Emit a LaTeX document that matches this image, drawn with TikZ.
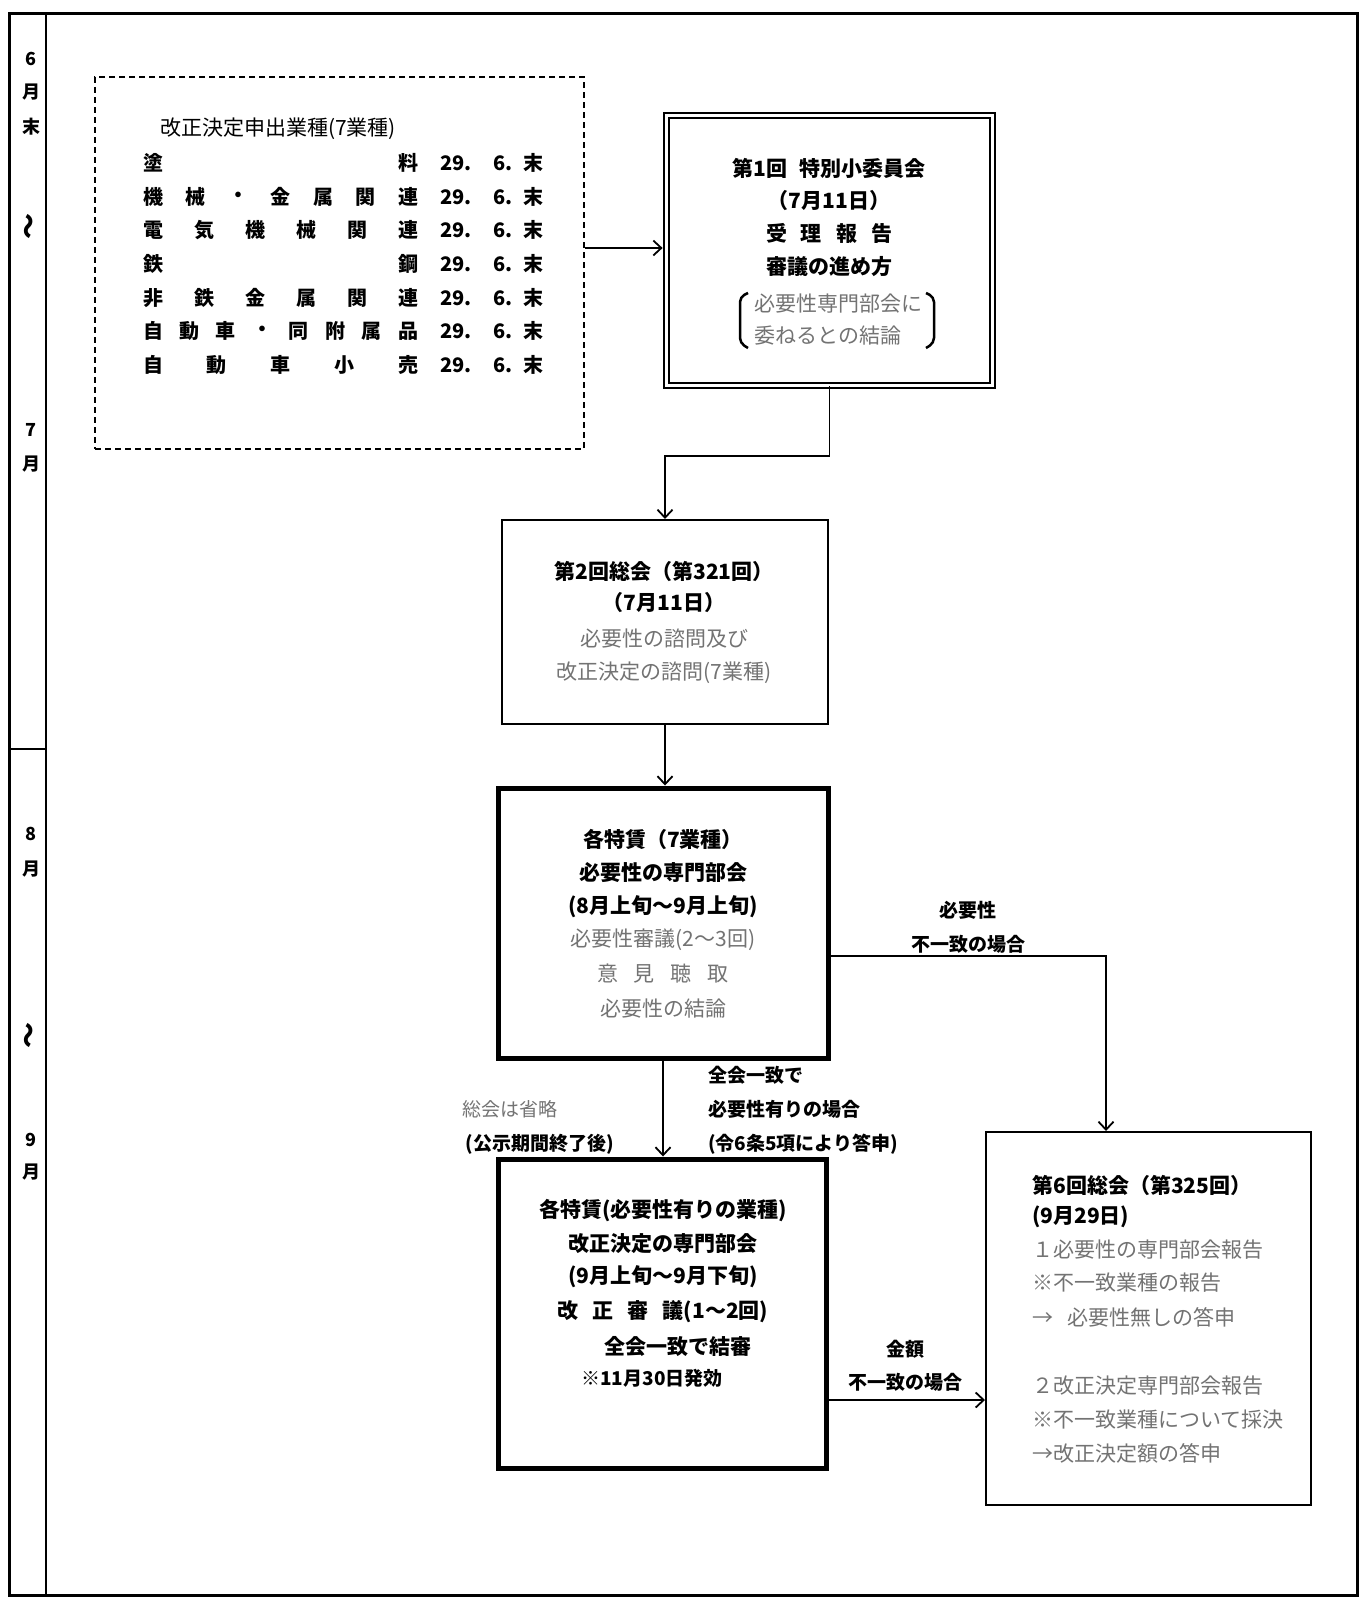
\documentclass[tikz,border=0pt]{standalone}
\usepackage{fontspec}
\setmainfont{Noto Sans CJK JP}
\usetikzlibrary{arrows.meta}
\definecolor{lightink}{gray}{0.45}
\tikzset{
  frameline/.style={line width=3pt, line cap=rect},
  plainbox/.style={draw, line width=2pt, inner sep=0pt},
  heavybox/.style={draw, line width=5pt, inner sep=0pt},
  doublebox/.style={draw, double, double distance=3pt, line width=1.8pt, inner sep=0pt},
  dashbox/.style={draw, dashed, dash pattern=on 6pt off 4pt, line width=1.8pt, inner sep=0pt},
  conn/.style={line width=1.8pt},
  arr/.style={conn, -{Straight Barb[length=8pt,width=15pt,line width=1.8pt]}},
  bt/.style={font=\fontsize{21}{24}\selectfont\bfseries, inner sep=0pt},
  lt/.style={font=\fontsize{21}{24}\selectfont, text=lightink, inner sep=0pt},
  rowt/.style={font=\fontsize{20}{22}\selectfont\bfseries, inner sep=0pt},
  lab/.style={font=\fontsize{19}{22}\selectfont\bfseries, inner sep=0pt},
  colt/.style={font=\fontsize{18}{20}\selectfont\bfseries, inner sep=0pt},
  wavet/.style={font=\fontsize{26}{28}\selectfont\bfseries, inner sep=0pt, rotate=90},
}
\newcommand\gyoshu[4]{%
  \foreach \ch [count=\k from 0] in {#4}{%
    \node[rowt] (#1-\k) at ({153+\k*255/(#3-1)},#2) {\ch};
  }
  \node[rowt, anchor=west] (#1-y) at (440,#2) {29.};
  \node[rowt, anchor=west] (#1-m) at (493,#2) {6.};
  \node[rowt] (#1-e) at (533,#2) {末};
}
\begin{document}
\begin{tikzpicture}[x=1pt,y=-1pt]
\useasboundingbox (0,0) rectangle (1365,1598);
\fill[white] (0,0) rectangle (1365,1598);

% outer frame and month column
\draw[frameline] (9,13) rectangle (1357,1595);
\draw[line width=2.6pt] (46,13) -- (46,1595);
\draw[line width=2pt] (9,749) -- (46,749);

\node[colt] (m6) at (31,59) {6};
\node[colt] (m6a) at (31,92) {月};
\node[colt] (m6b) at (31,127) {末};
\node[wavet] (w1) at (31,226) {～};
\node[colt] (m7) at (31,430) {7};
\node[colt] (m7a) at (31,464) {月};
\node[colt] (m8) at (31,834) {8};
\node[colt] (m8a) at (31,869) {月};
\node[wavet] (w2) at (31,1035) {～};
\node[colt] (m9) at (31,1140) {9};
\node[colt] (m9a) at (31,1172) {月};

% dashed box with industries
\node[dashbox, minimum width=489pt, minimum height=372pt] (dash) at (339.5,263) {};
\node[font=\fontsize{21}{24}\selectfont, inner sep=0pt] (title) at (278,129) {改正決定申出業種(7業種)};
\gyoshu{r1}{163}{2}{塗,料}
\gyoshu{r2}{197}{7}{機,械,・,金,属,関,連}
\gyoshu{r3}{230}{6}{電,気,機,械,関,連}
\gyoshu{r4}{264}{2}{鉄,鋼}
\gyoshu{r5}{298}{6}{非,鉄,金,属,関,連}
\gyoshu{r6}{331}{8}{自,動,車,・,同,附,属,品}
\gyoshu{r7}{365}{5}{自,動,車,小,売}

% box 1
\node[doublebox, minimum width=326pt, minimum height=270pt] (b1) at (829.5,250.5) {};
\node[bt] (t1a) at (829,168) {第1回\hspace{12pt}特別小委員会};
\node[bt] (t1b) at (829,201) {（7月11日）};
\node[bt] (t1c) at (829,233) {受\hspace{14pt}理\hspace{14pt}報\hspace{14pt}告};
\node[bt] (t1d) at (829,267) {審議の進め方};
\node[lt, anchor=west] (t1e) at (754,304) {必要性専門部会に};
\node[lt, anchor=west] (t1f) at (754,336) {委ねるとの結論};
\draw[line width=2.5pt, rounded corners=5pt] (748,293) -- (740,297) -- (740,343) -- (748,348);
\draw[line width=2.5pt, rounded corners=5pt] (926,293) -- (934,297) -- (934,343) -- (926,348);

% box 2
\node[plainbox, minimum width=326pt, minimum height=204pt] (b2) at (665,622) {};
\node[bt] (t2a) at (664,571) {第2回総会（第321回）};
\node[bt] (t2b) at (664,603) {（7月11日）};
\node[lt] (t2c) at (664,639) {必要性の諮問及び};
\node[lt] (t2d) at (664,673) {改正決定の諮問(7業種)};

% box 3
\node[heavybox, minimum width=330pt, minimum height=270pt] (b3) at (663,923) {};
\node[bt] (t3a) at (663,839) {各特賃（7業種）};
\node[bt] (t3b) at (663,873) {必要性の専門部会};
\node[bt] (t3c) at (663,907) {(8月上旬～9月上旬)};
\node[lt] (t3d) at (663,940) {必要性審議(2～3回)};
\node[lt] (t3e) at (663,974) {意\hspace{16pt}見\hspace{16pt}聴\hspace{16pt}取};
\node[lt] (t3f) at (663,1009) {必要性の結論};

% box 5
\node[heavybox, minimum width=328pt, minimum height=309pt] (b5) at (662,1313.5) {};
\node[bt] (t5a) at (663,1211) {各特賃(必要性有りの業種)};
\node[bt] (t5b) at (663,1244) {改正決定の専門部会};
\node[bt] (t5c) at (663,1277) {(9月上旬～9月下旬)};
\node[bt] (t5d) at (663,1312) {改\hspace{14pt}正\hspace{14pt}審\hspace{14pt}議(1～2回)};
\node[bt] (t5e) at (678,1346) {全会一致で結審};
\node[bt, font=\fontsize{19}{22}\selectfont\bfseries] (t5f) at (652,1378) {※11月30日発効};

% box 4
\node[plainbox, minimum width=325pt, minimum height=373pt] (b4) at (1148.5,1318.5) {};
\node[bt, anchor=west] (t4a) at (1032,1185) {第6回総会（第325回）};
\node[bt, anchor=west] (t4b) at (1032,1217) {(9月29日)};
\node[lt, anchor=west] (t4c) at (1032,1250) {１必要性の専門部会報告};
\node[lt, anchor=west] (t4d) at (1032,1283) {※不一致業種の報告};
\node[lt, anchor=west] (t4e) at (1032,1317) {→\hspace{14pt}必要性無しの答申};
\node[lt, anchor=west] (t4f) at (1032,1386) {２改正決定専門部会報告};
\node[lt, anchor=west] (t4g) at (1032,1420) {※不一致業種について採決};
\node[lt, anchor=west] (t4h) at (1032,1453) {→改正決定額の答申};

% labels
\node[lab] (l1) at (968,910) {必要性};
\node[lab] (l2) at (968,944) {不一致の場合};
\node[lt, font=\fontsize{19}{22}\selectfont] (l3) at (510,1109) {総会は省略};
\node[lab] (l4) at (540,1144) {(公示期間終了後)};
\node[lab, anchor=west] (l5) at (708,1075) {全会一致で};
\node[lab, anchor=west] (l6) at (708,1109) {必要性有りの場合};
\node[lab, anchor=west] (l7) at (708,1144) {(令6条5項により答申)};
\node[lab] (l8) at (905,1349) {金額};
\node[lab] (l9) at (905,1382) {不一致の場合};

% connectors
\coordinate (k0) at (0,248);
\draw[arr, shorten >=3pt] (dash.east |- k0) -- (b1.west |- k0);
\coordinate (k1) at (0,456);
\draw[arr] (b1.south) -- (b1.south |- k1) -| (b2.north);
\draw[arr] (b2.south) -- (b2.south |- b3.north);
\coordinate (k3) at (1106,956);
\draw[arr] (b3.east |- k3) -- (k3) -- (k3 |- b4.north);
\draw[arr] (b3.south) -- (b3.south |- b5.north);
\coordinate (k4) at (0,1400);
\draw[arr] (b5.east |- k4) -- (b4.west |- k4);
\end{tikzpicture}
\end{document}
